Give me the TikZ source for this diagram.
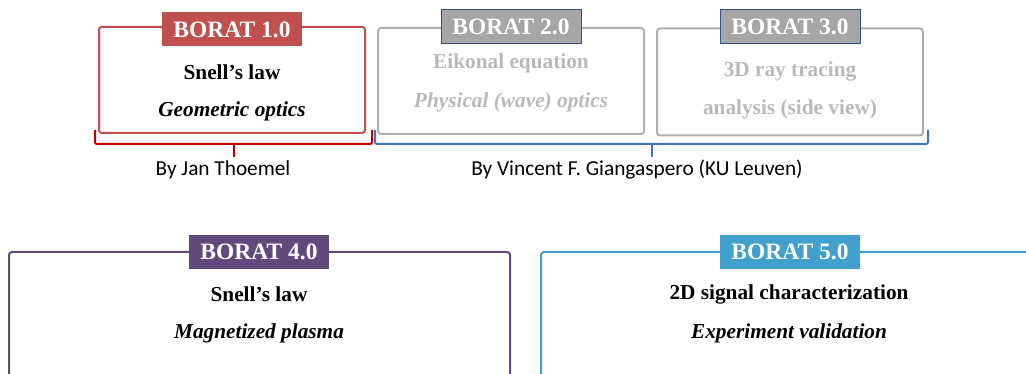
\documentclass[tikz,border=0pt]{standalone}
\usepackage{fontspec}
\setmainfont{Liberation Serif}
\newfontfamily\calib{Carlito}
\definecolor{redbox}{RGB}{192,80,77}
\definecolor{redbr}{RGB}{192,0,0}
\definecolor{graybox}{RGB}{175,175,175}
\definecolor{graylab}{RGB}{166,166,166}
\definecolor{graytxt}{RGB}{185,185,185}
\definecolor{navy}{RGB}{47,82,143}
\definecolor{bluebr}{RGB}{68,114,196}
\definecolor{purp}{RGB}{96,74,123}
\definecolor{cyanb}{RGB}{66,160,204}
\begin{document}
\begin{tikzpicture}[x=1pt,y=-1pt,
  box/.style={draw=#1, line width=2pt, rounded corners=3pt, inner sep=0pt},
  lab/.style={fill=#1, text=white, font=\fontsize{23.5}{23.5}\selectfont\bfseries, minimum width=140pt, minimum height=34pt, inner sep=0pt},
  tb/.style={font=\fontsize{21.3}{24}\selectfont\bfseries, inner sep=0pt},
  ti/.style={font=\fontsize{21.3}{24}\selectfont\bfseries\itshape, inner sep=0pt},
  by/.style={font=\calib\fontsize{21.3}{24}\selectfont, inner sep=0pt},
  brace/.style={line width=2pt, rounded corners=2pt}]
\clip (0,0) rectangle (1026,374);
% top boxes
\node[box=redbox, minimum width=266pt, minimum height=106pt] (b1) at (232,80) {};
\node[box=graybox, minimum width=266pt, minimum height=106pt] (b2) at (511,81) {};
\node[box=graybox, minimum width=266pt, minimum height=107pt] (b3) at (790,82) {};
% bottom boxes
\node[box=purp, minimum width=501pt, minimum height=170pt] (b4) at (259.5,337) {};
\node[box=cyanb, minimum width=500pt, minimum height=170pt] (b5) at (791,337) {};
% labels
\node[lab=redbox] (l1) at (232,29.5) {BORAT 1.0};
\node[lab=graylab, draw=navy, line width=1pt] (l2) at (511,27) {BORAT 2.0};
\node[lab=graylab, draw=navy, line width=1pt] (l3) at (790,26.5) {BORAT 3.0};
\node[lab=purp] (l4) at (259,252) {BORAT 4.0};
\node[lab=cyanb] (l5) at (790,252) {BORAT 5.0};
% contents
\node[tb] (t1a) at (232,72) {Snell’s law};
\node[ti] (t1b) at (232,111) {Geometric optics};
\node[tb, text=graytxt] (t2a) at (511,63) {Eikonal equation};
\node[ti, text=graytxt] (t2b) at (511,102) {Physical (wave) optics};
\node[tb, text=graytxt] (t3a) at (790,71) {3D ray tracing};
\node[tb, text=graytxt] (t3b) at (790,109) {analysis (side view)};
\node[tb] (t4a) at (259,294) {Snell’s law};
\node[ti] (t4b) at (259,333) {Magnetized plasma};
\node[tb] (t5a) at (789,294) {2D signal characterization};
\node[ti] (t5b) at (789,333) {Experiment validation};
% braces
\coordinate (r1) at (95,130);
\coordinate (r2) at (372,130);
\coordinate (rt) at (234,144);
\coordinate (rtip) at (234,157);
\draw[redbr, brace] (r1) |- (rt) -| (r2);
\draw[redbr, line width=2pt] (rt) -- (rtip);
\coordinate (u1) at (375,130);
\coordinate (u2) at (928,130);
\coordinate (ut) at (652,144);
\coordinate (utip) at (652,157);
\draw[bluebr, brace] (u1) |- (ut) -| (u2);
\draw[bluebr, line width=2pt] (ut) -- (utip);
\node[by] (n1) at (223,170) {By Jan Thoemel};
\node[by] (n2) at (637,170) {By Vincent F. Giangaspero (KU Leuven)};
\end{tikzpicture}
\end{document}
